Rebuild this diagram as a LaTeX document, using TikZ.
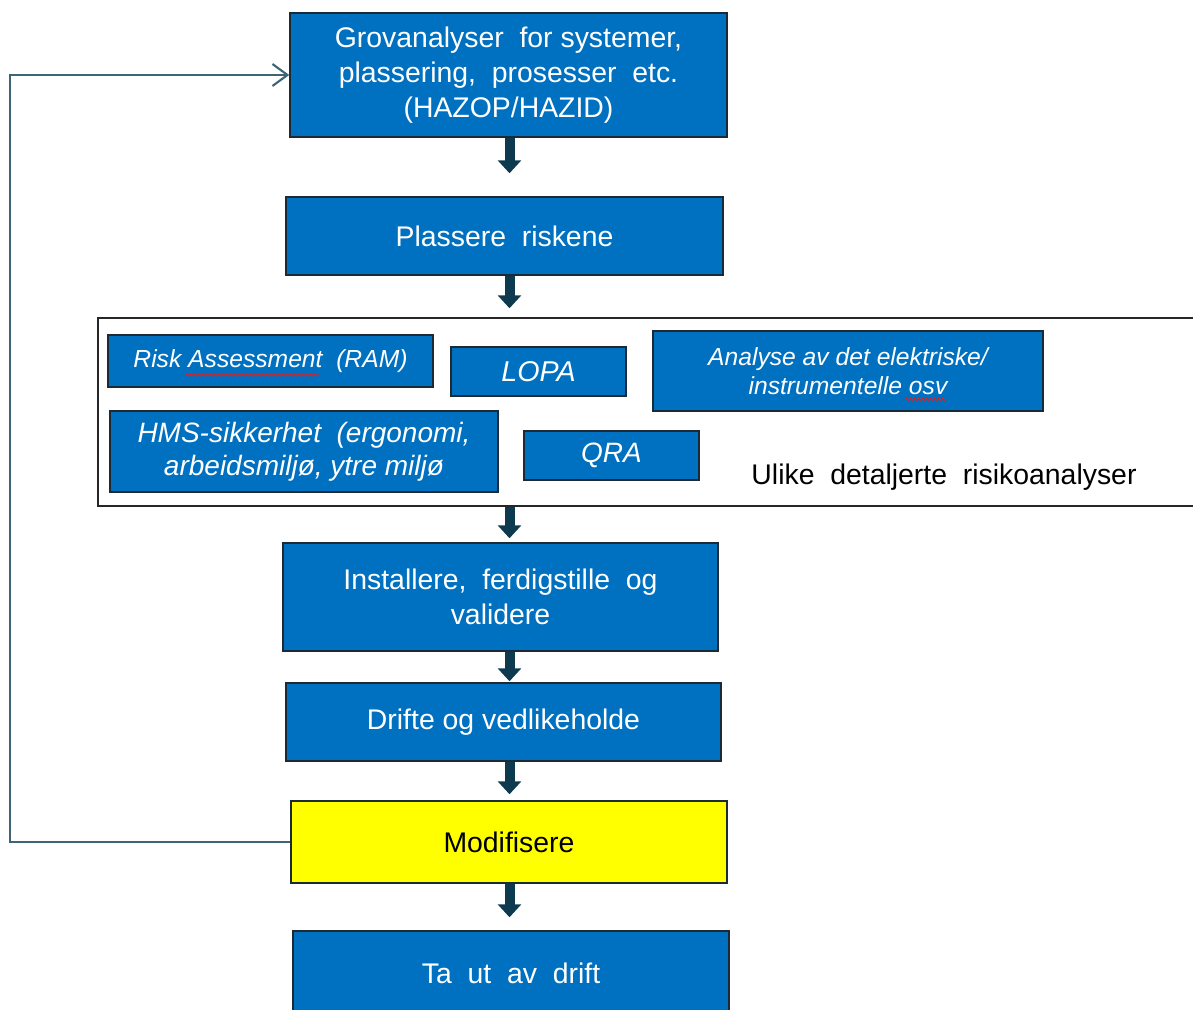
\documentclass[tikz,border=0pt]{standalone}
\usepackage{fontspec}
\setmainfont{Liberation Sans}
\usetikzlibrary{arrows.meta,decorations.pathmorphing}
\definecolor{boxblue}{HTML}{0070C0}
\definecolor{boxedge}{HTML}{1C2A36}
\definecolor{arrowdark}{HTML}{0E3A50}
\definecolor{loopline}{HTML}{3F6478}
\definecolor{modyellow}{HTML}{FFFF00}
\definecolor{spellred}{HTML}{E02020}
\begin{document}
\begin{tikzpicture}[x=0.75pt,y=-0.75pt,
  stage/.style={draw=boxedge, line width=1.1pt, fill=boxblue, text=white,
    align=center, inner sep=0pt, font=\fontsize{21.3}{26.5}\selectfont},
  method/.style={stage, font=\fontsize{18.5}{22}\selectfont\itshape},
  bigmethod/.style={stage, font=\fontsize{21.5}{25}\selectfont\itshape},
  flowarrow/.style={draw=arrowdark, line width=7.5pt,
    -{Triangle[width=17.25pt,length=9.75pt]}},
  feedback/.style={draw=loopline, line width=1.6pt,
    -{Straight Barb[width=16.5pt,length=11.25pt,line width=1.6pt]}},
  spell/.style={draw=spellred, line width=0.7pt,
    decorate, decoration={snake, amplitude=1pt, segment length=3pt}}]
\useasboundingbox (0,0) rectangle (1193,1010);
\clip (0,0) rectangle (1193,1010);

% main sequence of stages
\node[stage, minimum width=327.75pt, minimum height=93pt] (g) at (508.5,75)
  {Grovanalyser\ \ for systemer,\\ plassering,\ \ prosesser\ \ etc.\\ (HAZOP/HAZID)};
\node[stage, minimum width=327.75pt, minimum height=58.5pt] (p) at (504.5,236)
  {Plassere\ \ riskene};

% frame holding the detailed analyses
\node[draw=black!85, line width=1.1pt, minimum width=832.5pt, minimum height=141pt,
  inner sep=0pt] (frame) at (653,412) {};
\node[method, minimum width=243.75pt, minimum height=39pt] (ra) at (270.5,361)
  {Risk Assessment\ \ (RAM)};
\node[bigmethod, minimum width=131.25pt, minimum height=36.75pt] (lopa) at (538.5,371.5)
  {LOPA};
\node[method, minimum width=292.5pt, minimum height=60pt] (an) at (848,371)
  {Analyse av det elektriske/\\ instrumentelle osv};
\node[bigmethod, font=\fontsize{21}{25}\selectfont\itshape,
  minimum width=291pt, minimum height=60.75pt] (hms) at (304,451.5)
  {HMS-sikkerhet\ \ (ergonomi,\\ arbeidsmilj\o, ytre milj\o};
\node[bigmethod, font=\fontsize{21}{25}\selectfont\itshape,
  minimum width=131.25pt, minimum height=36.75pt] (qra) at (611.5,455.5)
  {QRA};
\node[font=\fontsize{21.3}{24}\selectfont, text=black, inner sep=0pt] (lbl) at (944,477)
  {Ulike\ \ detaljerte\ \ risikoanalyser};

% spell-check marks
\draw[spell] (186,375) -- (320,375);
\draw[spell] (905,399) -- (946,399);

\node[stage, minimum width=326.25pt, minimum height=81pt] (inst) at (500.5,597)
  {Installere,\ \ ferdigstille\ \ og\\ validere};
\node[stage, minimum width=326.25pt, minimum height=58.5pt] (dr) at (503.5,722)
  {Drifte og vedlikeholde};
\node[stage, fill=modyellow, text=black, minimum width=327pt, minimum height=61.5pt]
  (mod) at (509,842) {Modifisere};
\node[stage, minimum width=327pt, minimum height=63pt] (ta) at (511,973)
  {Ta\ \ ut\ \ av\ \ drift};

% downward flow arrows along a common spine
\coordinate (spine) at (509.5,0);
\draw[flowarrow, shorten >=17.25pt] (spine |- g.south) -- (spine |- p.north);
\draw[flowarrow, shorten >=6.75pt] (spine |- p.south) -- (spine |- frame.north);
\draw[flowarrow, shorten >=3pt] (spine |- frame.south) -- (spine |- inst.north);
\draw[flowarrow, shorten >=0.75pt] (spine |- inst.south) -- (spine |- dr.north);
\draw[flowarrow, shorten >=4.5pt] (spine |- dr.south) -- (spine |- mod.north);
\draw[flowarrow, shorten >=9.75pt] (spine |- mod.south) -- (spine |- ta.north);

% feedback loop from modification back to the coarse analyses
\coordinate (back) at (10,0);
\draw[feedback] (mod.west) -- (mod.west -| back) |- (g.west);
\end{tikzpicture}
\end{document}
